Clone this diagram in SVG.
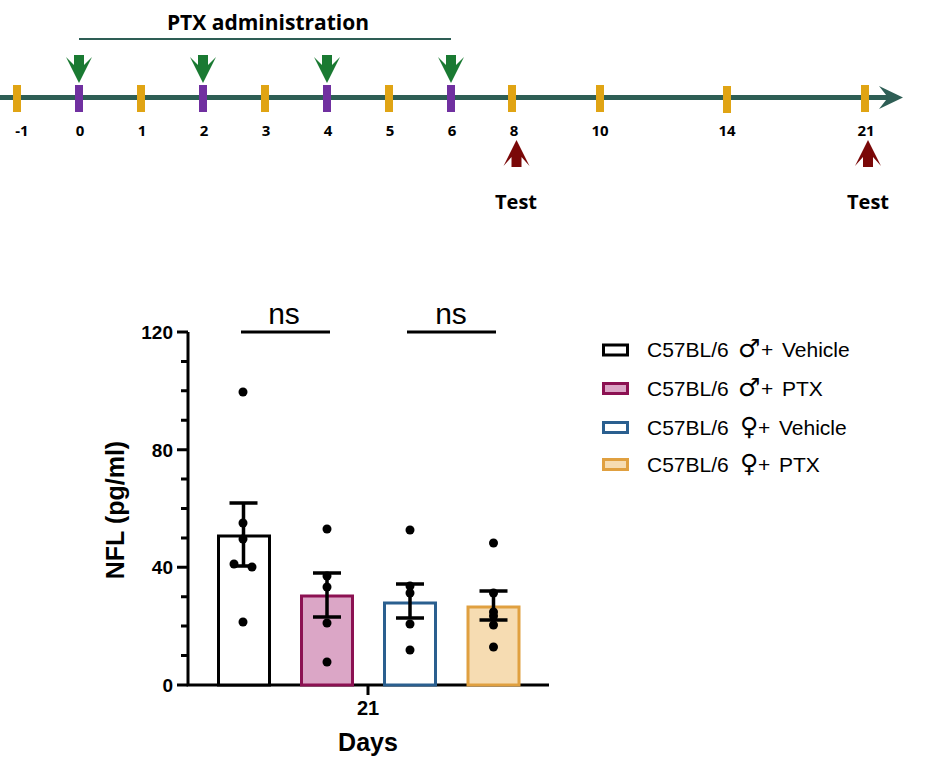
<svg xmlns="http://www.w3.org/2000/svg" width="929" height="778" viewBox="0 0 929 778">
<style>
.tl{stroke:#2e5e55;fill:none}
.ty{fill:#e0a414}
.tp{fill:#7030a0}
.lab{font-family:"Open Sans","Liberation Sans",sans-serif;font-weight:bold;fill:#000;text-anchor:middle}
.ga{fill:#1a7a32}
.ra{fill:#7a0808}
.ax{stroke:#000;stroke-width:3;fill:none}
.ct{font-family:"Liberation Sans",Arial,sans-serif;fill:#000}
.b{font-weight:bold}
.eb{stroke:#000;stroke-width:3.5;fill:none}
.dot{fill:#000}
.sym{font-family:"DejaVu Sans",sans-serif;font-size:25px}
</style>
<rect width="929" height="778" fill="#fff"/>
<g id="timeline">
<line class="tl" x1="0" y1="97.5" x2="896" y2="97.5" stroke-width="5"/>
<polygon points="879,86 903,97.5 879,109 888,97.5" fill="#2e5e55"/>
<line class="tl" x1="79" y1="39" x2="451" y2="39" stroke-width="2"/>
<text class="lab" x="268" y="30" font-size="21">PTX administration</text>
<g id="ticks">
<rect class="ty" x="13" y="85" width="8" height="27"/>
<rect class="tp" x="75" y="85" width="8" height="27"/>
<rect class="ty" x="137" y="85" width="8" height="27"/>
<rect class="tp" x="199" y="85" width="8" height="27"/>
<rect class="ty" x="261" y="85" width="8" height="27"/>
<rect class="tp" x="323" y="85" width="8" height="27"/>
<rect class="ty" x="385" y="85" width="8" height="27"/>
<rect class="tp" x="447" y="85" width="8" height="27"/>
<rect class="ty" x="508" y="85" width="8" height="27"/>
<rect class="ty" x="596" y="85" width="8" height="27"/>
<rect class="ty" x="723" y="86" width="8" height="27"/>
<rect class="ty" x="861" y="85" width="8" height="27"/>
</g>
<g id="tick-labels" font-size="15">
<text class="lab" x="22" y="136">-1</text>
<text class="lab" x="80" y="136">0</text>
<text class="lab" x="142" y="136">1</text>
<text class="lab" x="204" y="136">2</text>
<text class="lab" x="266" y="136">3</text>
<text class="lab" x="328" y="136">4</text>
<text class="lab" x="390" y="136">5</text>
<text class="lab" x="452" y="136">6</text>
<text class="lab" x="514" y="136">8</text>
<text class="lab" x="600" y="136">10</text>
<text class="lab" x="727" y="136">14</text>
<text class="lab" x="866" y="136">21</text>
</g>
<g id="ptx-arrows">
<polygon class="ga" points="79,83 92,57 84,65 84,55 74,55 74,65 66,57"/>
<polygon class="ga" points="203,83 216,57 208,65 208,55 198,55 198,65 190,57"/>
<polygon class="ga" points="327,83 340,57 332,65 332,55 322,55 322,65 314,57"/>
<polygon class="ga" points="451,83 464,57 456,65 456,55 446,55 446,65 438,57"/>
</g>
<g id="test-8">
<polygon class="ra" points="516.5,140 529.5,166 521.5,157 521.5,167 511.5,167 511.5,157 503.5,166"/>
<text class="lab" x="516" y="209" font-size="20">Test</text>
</g>
<g id="test-21">
<polygon class="ra" points="868,140 881,166 873,157 873,167 863,167 863,157 855,166"/>
<text class="lab" x="868" y="209" font-size="20">Test</text>
</g>
</g>
<g id="chart">
<g id="axes">
<path class="ax" d="M188,332 V685 H549"/>
<path class="ax" d="M177,332H188 M177,449.7H188 M177,567.3H188 M177,685H188"/>
<path class="ax" d="M181,361.4H188 M181,390.8H188 M181,420.2H188 M181,479.1H188 M181,508.5H188 M181,537.9H188 M181,596.7H188 M181,626.1H188 M181,655.6H188"/>
<path class="ax" d="M368,685V695"/>
<g class="ct b" font-size="19" text-anchor="end">
<text x="173" y="339">120</text>
<text x="173" y="456.5">80</text>
<text x="173" y="574">40</text>
<text x="173" y="691.5">0</text>
</g>
<text class="ct b" font-size="20" x="368" y="715" text-anchor="middle">21</text>
<text class="ct b" font-size="25" x="368" y="751" text-anchor="middle">Days</text>
<text class="ct b" font-size="25" transform="translate(124,510) rotate(-90)" text-anchor="middle">NFL (pg/ml)</text>
</g>
<g id="bar-male-vehicle">
<rect x="218.5" y="536" width="51" height="149" fill="#fff" stroke="#000" stroke-width="3"/>
<path class="eb" d="M229.5,503H257.5 M243.5,503V566 M232,566H255"/>
<circle class="dot" cx="243" cy="392" r="4.5"/>
<circle class="dot" cx="243" cy="523" r="4.5"/>
<circle class="dot" cx="243" cy="539" r="4.5"/>
<circle class="dot" cx="234" cy="564" r="4.5"/>
<circle class="dot" cx="252" cy="567" r="4.5"/>
<circle class="dot" cx="243" cy="622" r="4.5"/>
</g>
<g id="bar-male-ptx">
<rect x="301.5" y="596" width="51" height="89" fill="#dba6c6" stroke="#8c1152" stroke-width="3"/>
<path class="eb" d="M313,573H341 M327,573V617 M313,617H341"/>
<circle class="dot" cx="327" cy="529" r="4.5"/>
<circle class="dot" cx="327" cy="576" r="4.5"/>
<circle class="dot" cx="327" cy="587" r="4.5"/>
<circle class="dot" cx="327" cy="623" r="4.5"/>
<circle class="dot" cx="327" cy="662" r="4.5"/>
</g>
<g id="bar-female-vehicle">
<rect x="384.5" y="603" width="51" height="82" fill="#fff" stroke="#2a5f8f" stroke-width="3"/>
<path class="eb" d="M396,584H424 M410,584V618 M396,618H424"/>
<circle class="dot" cx="410" cy="530" r="4.5"/>
<circle class="dot" cx="410" cy="586" r="4.5"/>
<circle class="dot" cx="410" cy="593" r="4.5"/>
<circle class="dot" cx="410" cy="624" r="4.5"/>
<circle class="dot" cx="410" cy="650" r="4.5"/>
</g>
<g id="bar-female-ptx">
<rect x="468" y="607" width="51" height="78" fill="#f6dcb2" stroke="#e0a040" stroke-width="3"/>
<path class="eb" d="M479.5,591H507.5 M493.5,591V620 M479.5,620H507.5"/>
<circle class="dot" cx="493.5" cy="543" r="4.5"/>
<circle class="dot" cx="493.5" cy="593" r="4.5"/>
<circle class="dot" cx="493.5" cy="612" r="4.5"/>
<circle class="dot" cx="493.5" cy="616" r="4.5"/>
<circle class="dot" cx="493.5" cy="625" r="4.5"/>
<circle class="dot" cx="493.5" cy="647" r="4.5"/>
</g>
<g id="ns-1">
<line x1="241" y1="332" x2="330" y2="332" stroke="#000" stroke-width="3"/>
<text class="ct" font-size="30" x="284" y="324" text-anchor="middle">ns</text>
</g>
<g id="ns-2">
<line x1="407" y1="332" x2="496" y2="332" stroke="#000" stroke-width="3"/>
<text class="ct" font-size="30" x="451" y="324" text-anchor="middle">ns</text>
</g>
<g id="legend" font-size="21">
<rect x="603.5" y="345" width="24" height="10" fill="#fff" stroke="#000" stroke-width="3"/>
<text class="ct" y="357"><tspan x="647">C57BL/6</tspan><tspan class="sym" x="738">♂</tspan><tspan x="761">+</tspan><tspan x="782">Vehicle</tspan></text>
<rect x="603.5" y="383.5" width="24" height="10" fill="#dba6c6" stroke="#8c1152" stroke-width="3"/>
<text class="ct" y="395.5"><tspan x="647">C57BL/6</tspan><tspan class="sym" x="738">♂</tspan><tspan x="761">+</tspan><tspan x="782">PTX</tspan></text>
<rect x="603.5" y="422.5" width="24" height="10" fill="#fff" stroke="#2a5f8f" stroke-width="3"/>
<text class="ct" y="434.5"><tspan x="647">C57BL/6</tspan><tspan class="sym" x="740">♀</tspan><tspan x="758">+</tspan><tspan x="779">Vehicle</tspan></text>
<rect x="603.5" y="459.5" width="24" height="10" fill="#f6dcb2" stroke="#e0a040" stroke-width="3"/>
<text class="ct" y="471.5"><tspan x="647">C57BL/6</tspan><tspan class="sym" x="740">♀</tspan><tspan x="758">+</tspan><tspan x="779">PTX</tspan></text>
</g>
</g>
</svg>
